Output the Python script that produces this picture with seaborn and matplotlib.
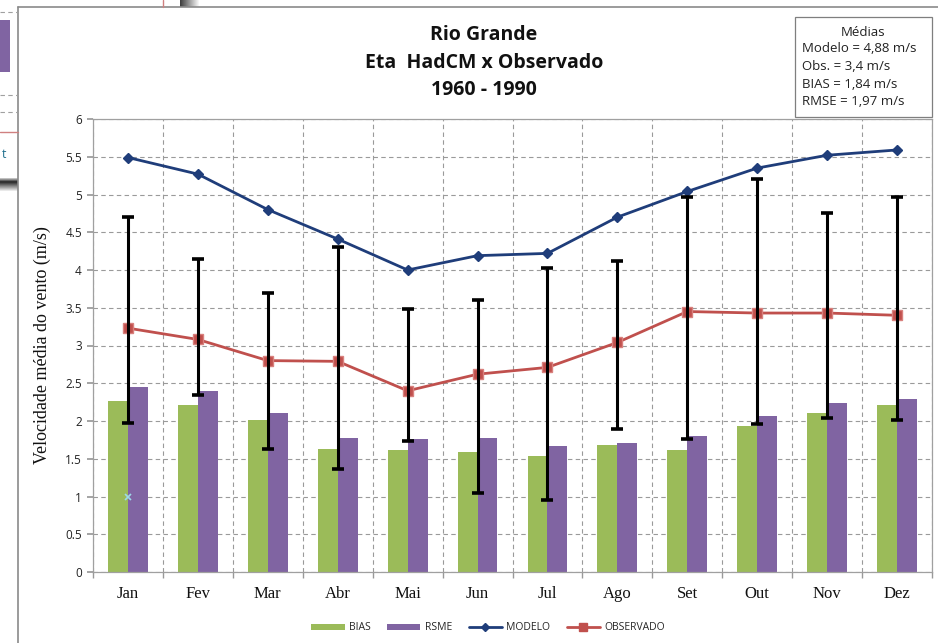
import numpy as np
import pandas as pd
import matplotlib
matplotlib.use("Agg")
import matplotlib.pyplot as plt
from matplotlib.patches import Rectangle, Patch
from matplotlib.lines import Line2D
import seaborn as sns

months = ["Jan", "Fev", "Mar", "Abr", "Mai", "Jun", "Jul", "Ago", "Set", "Out", "Nov", "Dez"]
bias = [2.27, 2.21, 2.01, 1.63, 1.62, 1.59, 1.53, 1.68, 1.61, 1.93, 2.11, 2.21]
rsme = [2.45, 2.40, 2.10, 1.78, 1.76, 1.77, 1.67, 1.71, 1.80, 2.07, 2.24, 2.29]
modelo = [5.49, 5.27, 4.80, 4.41, 4.00, 4.19, 4.22, 4.70, 5.04, 5.35, 5.52, 5.59]
observado = [3.23, 3.08, 2.80, 2.79, 2.40, 2.62, 2.71, 3.04, 3.45, 3.43, 3.43, 3.40]
obs_upper = [4.70, 4.15, 3.70, 4.31, 3.48, 3.60, 4.03, 4.12, 4.97, 5.20, 4.76, 4.97]
obs_lower = [1.97, 2.35, 1.63, 1.37, 1.74, 1.04, 0.96, 1.89, 1.76, 1.96, 2.04, 2.01]
stray_point = [1.0]  # small cyan mark at Jan

title_lines = ["Rio Grande", "Eta  HadCM x Observado", "1960 - 1990"]
media_lines = ["Modelo = 4,88 m/s", "Obs. = 3,4 m/s", "BIAS = 1,84 m/s", "RMSE = 1,97 m/s"]

sns.set_theme(style="white")
plt.rcParams["font.family"] = ["Open Sans", "DejaVu Sans"]

W, H = 938, 643
fig = plt.figure(figsize=(W / 100, H / 100), dpi=100)
fig.patch.set_facecolor("white")

def fx(px):
    return px / W

def fy(py):
    return 1 - py / H

ax = fig.add_axes([fx(93), fy(572), fx(932) - fx(93), fy(119) - fy(572)])

df = pd.DataFrame({
    "mes": months * 2,
    "valor": bias + rsme,
    "serie": ["BIAS"] * 12 + ["RSME"] * 12,
})
green = "#9BBB59"
purple = "#8064A2"
navy = "#1F3D7A"
red = "#C0504D"

sns.barplot(data=df, x="mes", y="valor", hue="serie", order=months,
            palette={"BIAS": green, "RSME": purple}, width=0.57,
            saturation=1, ax=ax, legend=False, zorder=2, linewidth=0)

xpos = np.arange(len(months))
ax.plot(xpos, modelo, color=navy, lw=2.0, marker="D", ms=5.5,
        mfc=navy, mec=navy, zorder=4)
ax.plot(xpos, observado, color=red, lw=2.0, marker="s", ms=6.5,
        mfc=red, mec="#D9807D", zorder=4)
obs = np.array(observado)
ax.errorbar(xpos, obs, yerr=[obs - np.array(obs_lower), np.array(obs_upper) - obs],
            fmt="none", ecolor="black", elinewidth=2.2, capsize=4, capthick=2.6, zorder=5)
ax.plot([0], stray_point, marker="x", color="#9ED8E8", ms=5, mew=1.2, ls="none", zorder=6)

ax.set_xlim(-0.5, 11.5)
ax.set_ylim(0, 6)
ax.set_yticks(np.arange(0, 6.01, 0.5))
ax.set_yticklabels([f"{v:g}" for v in np.arange(0, 6.01, 0.5)], fontsize=8.5, color="#222222")
ax.set_xticks(xpos)
ax.set_xticklabels(months, fontsize=12, family="Liberation Serif", color="#111111")
ax.set_xticks(np.arange(-0.5, 12, 1), minor=True)
ax.tick_params(axis="x", which="major", length=0, pad=10)
ax.tick_params(axis="x", which="minor", length=4, color="#999999", direction="out", bottom=True)
ax.tick_params(axis="y", length=4, color="#999999", direction="out", left=True, pad=4)
ax.grid(axis="y", which="major", color="#9A9A9A", ls=(0, (4, 3)), lw=0.8, zorder=0)
ax.grid(axis="x", which="minor", color="#9A9A9A", ls=(0, (4, 3)), lw=0.8, zorder=0)
ax.grid(axis="x", which="major", visible=False)
ax.set_axisbelow(True)
for s in ax.spines.values():
    s.set_color("#A0A0A0")
    s.set_linewidth(0.9)
ax.set_xlabel("")
ax.set_ylabel("Velocidade média do vento (m/s)", fontsize=13, family="Liberation Serif",
              color="#111111", labelpad=10)

# Title
for i, t in enumerate(title_lines):
    fig.text(fx(484), fy(35 + 27.5 * i), t, ha="center", va="center",
             fontsize=14, fontweight="bold", color="#111111")

# Medias box
fig.patches.append(Rectangle((fx(795), fy(117)), fx(932) - fx(795), fy(17) - fy(117),
                             transform=fig.transFigure, fill=True, facecolor="white",
                             edgecolor="#7F7F7F", lw=0.9, zorder=5))
fig.text(fx(863), fy(32), "Médias", ha="center", va="center", fontsize=9.5, color="#222222", zorder=6)
for i, t in enumerate(media_lines):
    fig.text(fx(802), fy(49 + 17.5 * i), t, ha="left", va="center", fontsize=9.5,
             color="#222222", zorder=6)

# Legend
handles = [
    Patch(facecolor=green, edgecolor="none"),
    Patch(facecolor=purple, edgecolor="none"),
    Line2D([], [], color=navy, lw=2, marker="D", ms=4.5),
    Line2D([], [], color=red, lw=2, marker="s", ms=5.5),
]
fig.legend(handles, ["BIAS", "RSME", "MODELO", "OBSERVADO"], loc="center",
           bbox_to_anchor=(fx(488), fy(628)), ncol=4, frameon=False, fontsize=7.5,
           handlelength=3.2, handleheight=0.6, columnspacing=1.6, handletextpad=0.4)

# Outer chart frame
fig.add_artist(Line2D([fx(18), fx(18)], [fy(7), 0], transform=fig.transFigure,
                      color="#8A8A8A", lw=1.2))
fig.add_artist(Line2D([fx(18), 1], [fy(7), fy(7)], transform=fig.transFigure,
                      color="#8A8A8A", lw=1.2))

# Background screenshot fragments on the left edge
fig.patches.append(Rectangle((0, fy(72)), fx(10), fy(20) - fy(72), transform=fig.transFigure,
                             facecolor=purple, edgecolor="none"))
for yy in (12, 95, 112):
    fig.add_artist(Line2D([0, fx(18)], [fy(yy), fy(yy)], transform=fig.transFigure,
                          color="#A0A0A0", lw=0.8, ls=(0, (4, 3))))
fig.add_artist(Line2D([0, fx(18)], [fy(132), fy(132)], transform=fig.transFigure,
                      color="#D08080", lw=1.0))
fig.text(fx(2), fy(155), "t", fontsize=9, color="#1F6E8C", va="center")
grad = np.concatenate([np.linspace(0.75, 0.2, 4), np.linspace(0.2, 1.0, 10)]).reshape(-1, 1)
fig.figimage(np.tile(grad, (1, 18)), xo=0, yo=H - 192, cmap="gray", vmin=0, vmax=1,
             origin="upper", zorder=1)
fig.add_artist(Line2D([fx(163), fx(163)], [fy(0), fy(7)], transform=fig.transFigure,
                      color="#D08080", lw=1.0))
gx = np.tile(np.linspace(0.25, 1, 20).reshape(1, -1), (7, 1))
fig.figimage(gx, xo=180, yo=H - 7, cmap="gray", vmin=0, vmax=1, zorder=1)

fig.savefig("out.png", dpi=100, facecolor="white")
